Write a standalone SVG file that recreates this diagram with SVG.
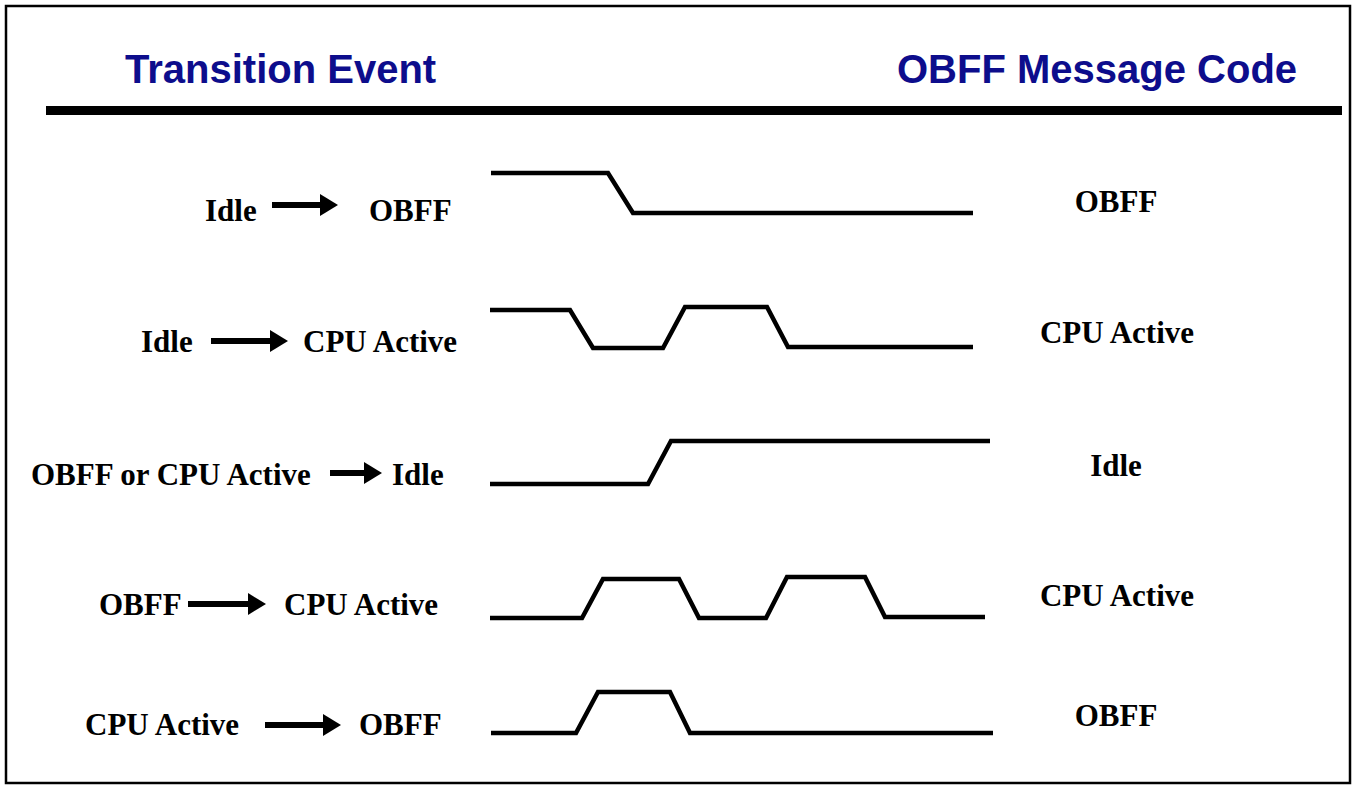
<svg xmlns="http://www.w3.org/2000/svg" width="1356" height="791" viewBox="0 0 1356 791">
<style>
.title{font-family:"Liberation Sans",Arial,sans-serif;font-weight:bold;font-size:40px;fill:#0d0d8c}
.lbl{font-family:"Liberation Serif","Times New Roman",serif;font-weight:bold;font-size:31px;fill:#000}
.code{font-family:"Liberation Serif","Times New Roman",serif;font-weight:bold;font-size:31px;fill:#000;text-anchor:middle}
.wave{fill:none;stroke:#000;stroke-width:4.5;stroke-linejoin:miter}
.arr{stroke:#000;stroke-width:6;marker-end:url(#head)}
</style>
<defs>
<marker id="head" markerUnits="userSpaceOnUse" markerWidth="18" markerHeight="22" refX="0" refY="11" orient="auto" overflow="visible">
<path d="M0,0 L18,11 L0,22 Z" fill="#000"/>
</marker>
</defs>
<rect x="0" y="0" width="1356" height="791" fill="#fff"/>
<rect x="6" y="6" width="1344" height="777" fill="none" stroke="#000" stroke-width="2.5"/>
<g id="header">
<text class="title" x="125" y="83">Transition Event</text>
<text class="title" x="897" y="83">OBFF Message Code</text>
<rect x="46" y="106" width="1296" height="9" fill="#000"/>
</g>
<g id="row1">
<text class="lbl" x="205" y="221">Idle</text>
<text class="lbl" x="369" y="221">OBFF</text>
<polyline class="wave" points="491,173 608,173 633,213 973,213"/>
<text class="code" x="1116" y="212">OBFF</text>
</g>
<g id="row2">
<text class="lbl" x="141" y="352">Idle</text>
<text class="lbl" x="303" y="352">CPU Active</text>
<polyline class="wave" points="490,310 570,310 593,348 663,348 685,307 767,307 788,347 973,347"/>
<text class="code" x="1117" y="343">CPU Active</text>
</g>
<g id="row3">
<text class="lbl" x="31" y="485">OBFF or CPU Active</text>
<text class="lbl" x="392" y="485">Idle</text>
<polyline class="wave" points="490,484 648,484 671,441 990,441"/>
<text class="code" x="1116" y="476">Idle</text>
</g>
<g id="row4">
<text class="lbl" x="99" y="615">OBFF</text>
<text class="lbl" x="284" y="615">CPU Active</text>
<polyline class="wave" points="490,618 582,618 603,579 679,579 699,618 766,618 787,577 865,577 885,617 985,617"/>
<text class="code" x="1117" y="606">CPU Active</text>
</g>
<g id="row5">
<text class="lbl" x="85" y="735">CPU Active</text>
<text class="lbl" x="359" y="735">OBFF</text>
<polyline class="wave" points="491,733 576,733 598,692 670,692 690,733 993,733"/>
<text class="code" x="1116" y="726">OBFF</text>
</g>
<g id="connectors">
<line class="arr" x1="272" y1="205" x2="320" y2="205"/>
<line class="arr" x1="211" y1="341" x2="270" y2="341"/>
<line class="arr" x1="330" y1="473" x2="364" y2="473"/>
<line class="arr" x1="188" y1="604" x2="248" y2="604"/>
<line class="arr" x1="265" y1="725" x2="323" y2="725"/>
</g>
</svg>
